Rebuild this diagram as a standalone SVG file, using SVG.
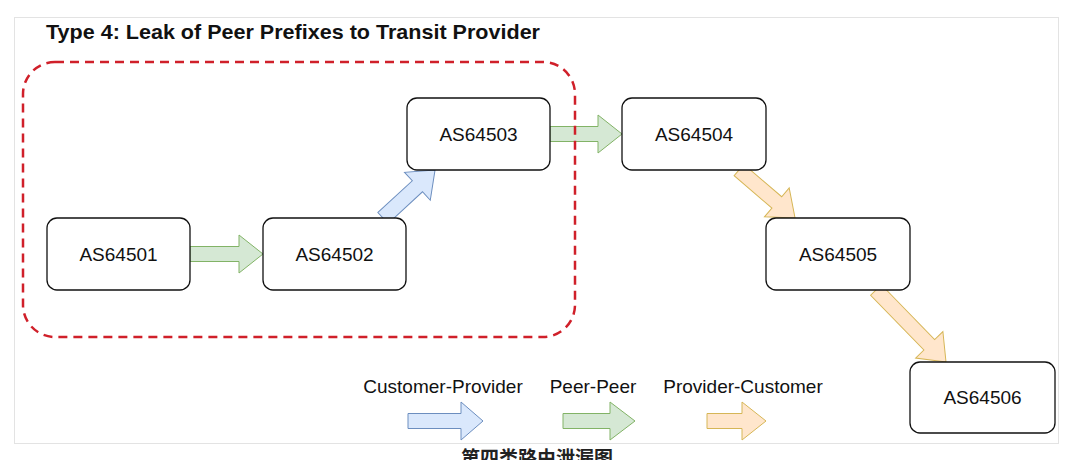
<svg xmlns="http://www.w3.org/2000/svg" width="1083" height="460" viewBox="0 0 1083 460">
<style>
.node rect{fill:#fff;stroke:#111;stroke-width:1.3}
.node text,.lbl{font-family:"Liberation Sans",Arial,sans-serif;font-size:19px;fill:#111;text-anchor:middle}
.g{fill:#d5e8d4;stroke:#82b366;stroke-width:1}
.b{fill:#dae8fc;stroke:#6c8ebf;stroke-width:1}
.o{fill:#ffe6cc;stroke:#d6b656;stroke-width:1}
</style>
<rect width="1083" height="460" fill="#fff"/>
<rect x="14.5" y="17.5" width="1044" height="426" fill="none" stroke="#e3e3e3" stroke-width="1"/>
<text x="46" y="39" font-family="Liberation Sans,Arial,sans-serif" font-size="20.5" font-weight="bold" fill="#111" textLength="494" lengthAdjust="spacingAndGlyphs">Type 4: Leak of Peer Prefixes to Transit Provider</text>
<g id="connectors">
<path class="g" transform="translate(190,254)" d="M0,-7.5 H49 V-19 L73,0 L49,19 V7.5 H0 Z"/>
<path class="g" transform="translate(550,134)" d="M0,-7.5 H48 V-19 L72,0 L48,19 V7.5 H0 Z"/>
<path class="b" transform="translate(383,218) rotate(-42.7)" d="M0,-7.5 H46.8 V-19 L70.8,0 L46.8,19 V7.5 H0 Z"/>
<path class="o" transform="translate(739,170) rotate(40.6)" d="M0,-7.5 H49.8 V-19 L73.8,0 L49.8,19 V7.5 H0 Z"/>
<path class="o" transform="translate(876,290) rotate(45.8)" d="M0,-7.5 H76.4 V-19 L100.4,0 L76.4,19 V7.5 H0 Z"/>
</g>
<rect id="leak-zone" x="23" y="62" width="552" height="275" rx="32" ry="32" fill="none" stroke="#d0202a" stroke-width="2.5" stroke-dasharray="9 6"/>
<g id="AS64501" class="node"><rect x="47" y="218" width="143" height="72" rx="10"/><text x="118.5" y="261">AS64501</text></g>
<g id="AS64502" class="node"><rect x="263" y="218" width="143" height="72" rx="10"/><text x="334.5" y="261">AS64502</text></g>
<g id="AS64503" class="node"><rect x="407" y="98" width="143" height="72" rx="10"/><text x="478.5" y="141">AS64503</text></g>
<g id="AS64504" class="node"><rect x="622" y="98" width="144" height="72" rx="10"/><text x="694" y="141">AS64504</text></g>
<g id="AS64505" class="node"><rect x="766" y="218" width="144" height="72" rx="10"/><text x="838" y="261">AS64505</text></g>
<g id="AS64506" class="node"><rect x="910" y="362" width="145" height="71" rx="10"/><text x="982.5" y="404">AS64506</text></g>
<g id="legend">
<text class="lbl" x="443" y="393">Customer-Provider</text>
<text class="lbl" x="593" y="393">Peer-Peer</text>
<text class="lbl" x="743" y="393">Provider-Customer</text>
<path class="b" transform="translate(408,421)" d="M0,-7.5 H53 V-19 L75,0 L53,19 V7.5 H0 Z"/>
<path class="g" transform="translate(563,421)" d="M0,-7.5 H47 V-19 L72,0 L47,19 V7.5 H0 Z"/>
<path class="o" transform="translate(707,421)" d="M0,-7.5 H35 V-19 L59,0 L35,19 V7.5 H0 Z"/>
</g>
<text x="537" y="465" font-family="Liberation Sans,'Noto Sans CJK SC',sans-serif" font-size="19" font-weight="bold" fill="#222" text-anchor="middle">第四类路由泄漏图</text>
</svg>
